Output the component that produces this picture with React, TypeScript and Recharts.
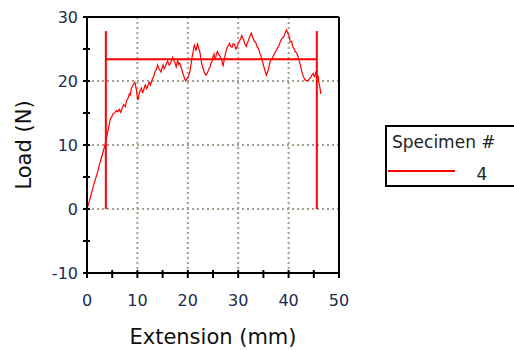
import {
  LineChart,
  Line,
  XAxis,
  YAxis,
  CartesianGrid,
  ReferenceLine,
  Legend,
  Label,
} from 'recharts'

// Load/extension trace for specimen 4
const extension = [
  0, 0.5, 1, 1.5, 2, 2.5, 3, 3.5, 4, 4.3, 4.6, 4.9, 5.2, 5.5, 5.8, 6.1, 6.4, 6.7, 7,
  7.3, 7.6, 7.9, 8.2, 8.4, 8.6, 8.8, 9, 9.2, 9.5, 9.8, 10, 10.1, 10.3, 10.5, 10.8, 11,
  11.2, 11.4, 11.6, 11.8, 12, 12.2, 12.4, 12.6, 12.8, 13, 13.2, 13.5, 13.8, 14, 14.2,
  14.4, 14.7, 14.9, 15.1, 15.3, 15.5, 15.8, 16, 16.3, 16.5, 16.8, 17, 17.2, 17.4, 17.7,
  17.9, 18, 18.2, 18.4, 18.6, 18.8, 19, 19.2, 19.4, 19.6, 19.8, 20, 20.2, 20.4, 20.6,
  20.8, 21, 21.1, 21.3, 21.4, 21.6, 21.7, 21.9, 22, 22.2, 22.4, 22.7, 22.9, 23.1, 23.3,
  23.6, 23.8, 24, 24.2, 24.4, 24.6, 24.8, 25, 25.2, 25.3, 25.5, 25.7, 25.9, 26.1, 26.3,
  26.5, 26.7, 26.9, 27, 27.2, 27.4, 27.6, 27.8, 28, 28.3, 28.5, 28.8, 29, 29.3, 29.5,
  29.7, 30, 30.2, 30.5, 30.7, 30.9, 31.1, 31.3, 31.6, 31.8, 32, 32.3, 32.6, 32.8, 33,
  33.2, 33.5, 33.7, 34, 34.2, 34.5, 34.8, 35, 35.3, 35.6, 35.8, 36, 36.3, 36.5, 36.8,
  37, 37.2, 37.4, 37.6, 37.9, 38.1, 38.4, 38.6, 38.9, 39.1, 39.4, 39.6, 39.8, 40, 40.2,
  40.3, 40.6, 40.8, 41.1, 41.3, 41.6, 41.9, 42.1, 42.3, 42.6, 42.9, 43.2, 43.5, 43.7,
  44, 44.2, 44.4, 44.6, 44.9, 45, 45.2, 45.4, 45.5, 45.7, 45.9, 46, 46.2, 46.4,
]
const load = [
  0, 1.3, 2.8, 4.2, 5.5, 7, 8.4, 9.8, 11.6, 12.8, 14, 14.4, 14.9, 15, 15.4, 15.2, 15.6,
  15.1, 15.8, 16.3, 16, 17, 17.4, 18, 17.8, 18.9, 19.1, 19.5, 19.8, 18.6, 17.4, 17, 17.8,
  18.4, 18.9, 18.2, 18.4, 19.1, 19.4, 18.8, 19, 19.6, 19.8, 19.4, 19.9, 20.4, 20.6, 21.5,
  21.8, 22.5, 22, 21.8, 21.4, 22.1, 22.5, 21.9, 22.2, 22.8, 23.1, 22.5, 22.6, 23.3, 23.7,
  23.2, 23, 22.2, 22.9, 23.2, 22.6, 22.8, 22.3, 21.8, 21.2, 20.8, 20.3, 20, 20.3, 20.6,
  20.9, 21.4, 22.4, 23.5, 24.3, 24.8, 25.6, 25.4, 24.8, 24.9, 25.8, 25.6, 25, 24.5, 23,
  22.3, 21.8, 21.3, 20.9, 21.1, 21.5, 21.9, 22.2, 22.8, 23, 23.8, 24.2, 23.6, 23.5, 24.3,
  24.6, 24.2, 24, 23.6, 23.4, 22.6, 22.4, 23.2, 24, 24.7, 25.2, 25.5, 25.9, 25.4, 25.3,
  25.8, 25.7, 25, 25.2, 25.8, 26.2, 26.6, 27.1, 26.7, 26.4, 25.8, 25.4, 25.9, 26.3, 26.9,
  27.5, 27, 26.6, 26.2, 26, 25.4, 25.1, 24.6, 23.9, 23.1, 22.5, 21.6, 20.9, 21.4, 21.8,
  23, 23.3, 23.6, 24, 24.3, 24.6, 24.8, 25.3, 25.6, 26.2, 26.6, 26.8, 27, 27.7, 28, 27.5,
  27.2, 26.8, 26.1, 26.2, 25.4, 25, 24.6, 24.4, 23.8, 23.1, 22.6, 21.5, 20.8, 20.2, 20.1,
  20, 20.2, 20.4, 20.6, 20.9, 21.2, 20.8, 20.7, 21.4, 21.3, 20.9, 20.7, 19.8, 19, 18,
]

const xTicks = [0, 5, 10, 15, 20, 25, 30, 35, 40, 45, 50]
const yTicks = [-10, -5, 0, 5, 10, 15, 20, 25, 30]
const gridX = [10, 20, 30, 40]
const gridY = [0, 10, 20]
const specimen = '4'

// break markers and mean load bar
const markerStart = 3.74
const markerEnd = 45.6
const markerTop = 27.8
const meanLoad = 23.4

const data = extension.map((e, i) => ({ extension: e, load: load[i] }))

const font = 'DejaVu Sans, Verdana, sans-serif'
const tickColor = '#1c2b50'

function XTick({ x, y, payload }: any) {
  return (
    <g>
      <line x1={x} x2={x} y1={y - 3} y2={y + 5} stroke="#000" strokeWidth={2} />
      {payload.value % 10 === 0 && (
        <text x={x} y={y + 33} textAnchor="middle" fill={tickColor} fontSize={16} fontFamily={font}>
          {payload.value}
        </text>
      )}
    </g>
  )
}

function YTick({ x, y, payload }: any) {
  return (
    <g>
      <line x1={x - 4} x2={x + 3} y1={y} y2={y} stroke="#000" strokeWidth={2} />
      {payload.value % 10 === 0 && (
        <text x={x - 9} y={y + 6} textAnchor="end" fill={tickColor} fontSize={16} fontFamily={font}>
          {payload.value}
        </text>
      )}
    </g>
  )
}

function SpecimenLegend() {
  return (
    <svg width={140} height={62} style={{ display: 'block' }}>
      <rect x={1} y={1} width={140} height={60} fill="#fff" stroke="#000" strokeWidth={2} />
      <text x={7} y={23} fontSize={17} fontFamily={font} fill="#222">
        Specimen #
      </text>
      <line x1={3} x2={70} y1={46} y2={46} stroke="#ff0000" strokeWidth={2} />
      <text x={97} y={55} textAnchor="middle" fontSize={17} fontFamily={font} fill="#222">
        {specimen}
      </text>
    </svg>
  )
}

export default function App() {
  return (
    <div style={{ position: 'absolute', left: 0, top: 0, width: 514, height: 350, overflow: 'hidden', background: '#fff' }}>
      <LineChart width={514} height={350} data={data} margin={{ top: 17, right: 175, left: 0, bottom: 0 }}>
        <CartesianGrid
          horizontalValues={gridY}
          verticalValues={gridX}
          stroke="#a09f8e"
          strokeWidth={2}
          strokeDasharray="2 3"
        />
        <XAxis
          dataKey="extension"
          type="number"
          domain={[0, 50]}
          ticks={xTicks}
          tick={<XTick />}
          tickLine={false}
          tickSize={0}
          tickMargin={0}
          height={77}
          axisLine={{ stroke: '#000', strokeWidth: 2 }}
          allowDataOverflow
        >
          <Label value="Extension (mm)" position="insideBottom" offset={6} fill="#111" fontSize={21} fontFamily={font} />
        </XAxis>
        <YAxis
          type="number"
          domain={[-10, 30]}
          ticks={yTicks}
          tick={<YTick />}
          tickLine={false}
          tickSize={0}
          tickMargin={0}
          width={87}
          axisLine={{ stroke: '#000', strokeWidth: 2 }}
          allowDataOverflow
        >
          <Label
            value="Load (N)"
            angle={-90}
            position="insideLeft"
            offset={24}
            fill="#111"
            fontSize={21}
            fontFamily={font}
            style={{ textAnchor: 'middle' }}
          />
        </YAxis>
        <ReferenceLine y={30} stroke="#000" strokeWidth={2} />
        <ReferenceLine x={50} stroke="#000" strokeWidth={2} />
        <ReferenceLine
          segment={[{ x: markerStart, y: 0 }, { x: markerStart, y: markerTop }]}
          stroke="#ff0000"
          strokeWidth={2}
        />
        <ReferenceLine
          segment={[{ x: markerEnd, y: 0 }, { x: markerEnd, y: markerTop }]}
          stroke="#ff0000"
          strokeWidth={2}
        />
        <ReferenceLine
          segment={[{ x: markerStart, y: meanLoad }, { x: markerEnd, y: meanLoad }]}
          stroke="#ff0000"
          strokeWidth={2}
        />
        <Line
          dataKey="load"
          type="linear"
          stroke="#ff0000"
          strokeWidth={1.2}
          dot={false}
          isAnimationActive={false}
        />
        <Legend
          layout="horizontal"
          verticalAlign="middle"
          align="center"
          wrapperStyle={{ left: 385, top: 125, width: 140 }}
          content={() => <SpecimenLegend />}
        />
      </LineChart>
    </div>
  )
}
